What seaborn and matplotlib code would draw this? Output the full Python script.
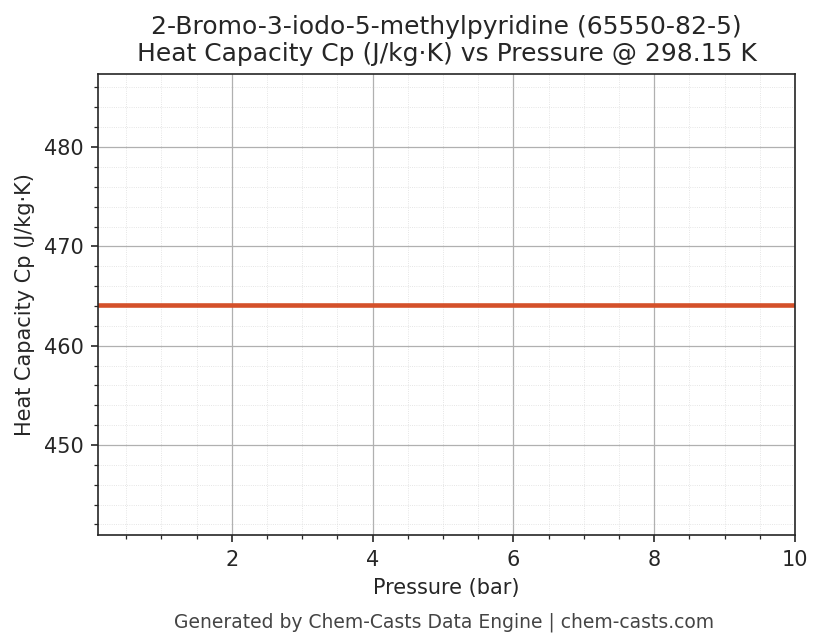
import matplotlib
matplotlib.use("Agg")
import matplotlib.pyplot as plt
import seaborn as sns
import pandas as pd
from matplotlib.ticker import AutoMinorLocator

pressure = [0.1, 10.0]
cp = [464.15, 464.15]
df = pd.DataFrame({"Pressure (bar)": pressure, "Cp": cp})

sns.set_style("ticks")
plt.rcParams['font.family'] = ['DejaVu Sans']
fig, ax = plt.subplots(figsize=(823/150, 644/150), dpi=150)
fig.subplots_adjust(left=98/823, right=795/823, top=1-74/644, bottom=1-535/644)
sns.lineplot(data=df, x="Pressure (bar)", y="Cp", ax=ax, color="#d4502a", linewidth=2.2)
ax.set_xlim(0.1, 10)
ax.set_ylim(464.15*0.95, 464.15*1.05)
ax.xaxis.set_minor_locator(AutoMinorLocator())
ax.yaxis.set_minor_locator(AutoMinorLocator())
ax.grid(which="major", color="#b0b0b0", linewidth=0.6)
ax.grid(which="minor", color="#dddddd", linewidth=0.4, linestyle=":")
ax.set_xlabel("Pressure (bar)")
ax.set_ylabel("Heat Capacity Cp (J/kg·K)")
ax.set_title("2-Bromo-3-iodo-5-methylpyridine (65550-82-5)\nHeat Capacity Cp (J/kg·K) vs Pressure @ 298.15 K", fontsize=12)
fig.text(0.54, 0.025, "Generated by Chem-Casts Data Engine | chem-casts.com", ha="center", fontsize=9, color="#444444")
fig.savefig("out.png", dpi=150)
